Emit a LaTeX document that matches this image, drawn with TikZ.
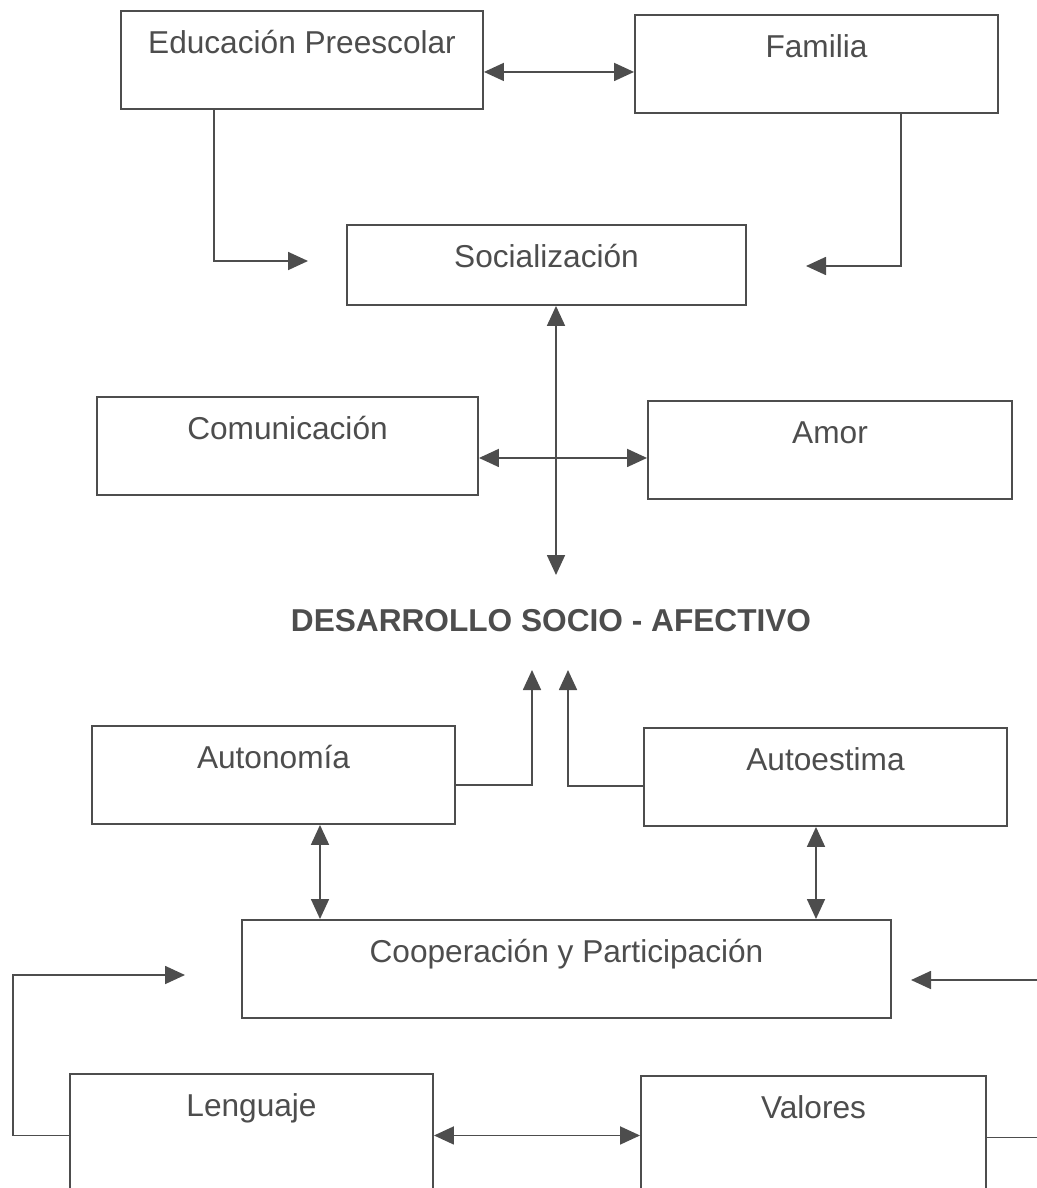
\documentclass[tikz,border=0pt]{standalone}
\usepackage{fontspec}
\setmainfont{Liberation Sans}
\usetikzlibrary{arrows.meta, positioning}
\definecolor{ink}{HTML}{4d4d4d}

\begin{document}
\begin{tikzpicture}[
                >={Triangle[length=0.4cm, width=0.36cm]},
                box/.style={draw=ink, line width=1.1pt, text=ink, inner ysep=0pt, anchor=north,
                           text height=0.86cm, text depth=1.1cm, font=\fontsize{18}{22}\selectfont},
                link/.style={draw=ink, line width=1pt}]

                \useasboundingbox (0,0) rectangle (20.72,-23.76);

                % Top row
                \node[box, minimum width=7.24cm] (edu) at (6.04,-0.2) {Educación Preescolar};
                \node[box, minimum width=7.26cm] (fam) at (16.33,-0.28) {Familia};

                % Socialization in the middle
                \node[box, minimum width=7.98cm, text depth=0.74cm] (soc) at (10.93,-4.48) {Socialización};

                % Second row
                \node[box, minimum width=7.62cm] (com) at (5.75,-7.92) {Comunicación};
                \node[box, minimum width=7.28cm] (amor) at (16.6,-8.0) {Amor};

                % Central title
                \node[text=ink, font=\fontsize{18}{22}\selectfont\bfseries] (desa) at (11.02,-12.42)
                    {DESARROLLO SOCIO - AFECTIVO};

                % Lower rows
                \node[box, minimum width=7.26cm] (auton) at (5.47,-14.5) {Autonomía};
                \node[box, minimum width=7.26cm] (autoe) at (16.51,-14.54) {Autoestima};
                \node[box, minimum width=12.98cm] (coop) at (11.33,-18.38) {Cooperación y Participación};
                \node[box, minimum width=7.26cm, text depth=1.6cm] (leng) at (5.03,-21.46) {Lenguaje};
                \node[box, minimum width=6.9cm, text depth=1.6cm] (val) at (16.27,-21.5) {Valores};

                % Free arrow ends
                \coordinate (eduIn) at (6.16,-5.22);
                \coordinate (famIn) at (16.12,-5.32);
                \coordinate (socDn) at (11.12,-11.5);
                \coordinate (upL) at (10.64,-13.4);
                \coordinate (upR) at (11.36,-13.4);
                \coordinate (coopL) at (3.7,-19.5);
                \coordinate (coopR) at (18.22,-19.6);

                % Upper connections
                \draw[link, <->] ([yshift=-0.24cm]edu.east) -- ([yshift=-0.16cm]fam.west);
                \draw[link, ->] ([xshift=-1.76cm]edu.south) |- (eduIn);
                \draw[link, ->] ([xshift=1.69cm]fam.south) |- (famIn);
                \draw[link, <->] ([xshift=0.19cm]soc.south) -- (socDn);
                \draw[link, <->] ([yshift=-0.24cm]com.east) -- ([yshift=-0.16cm]amor.west);

                % Lower connections
                \draw[link, ->] ([yshift=-0.2cm]auton.east) -| (upL);
                \draw[link, ->] ([yshift=-0.18cm]autoe.west) -| (upR);
                \draw[link, <->] ([xshift=0.93cm]auton.south) -- ([xshift=-4.93cm]coop.north);
                \draw[link, <->] ([xshift=-0.19cm]autoe.south) -- ([xshift=4.99cm]coop.north);
                \draw[link, <->] (leng.east) -- (leng.east -| val.west);
                \draw[link, ->] (leng.west) -- ++(-1.12,0) |- (coopL);
                \draw[link, ->] (val.east) -- ++(1.2,0) |- (coopR);
            \end{tikzpicture}
\end{document}
